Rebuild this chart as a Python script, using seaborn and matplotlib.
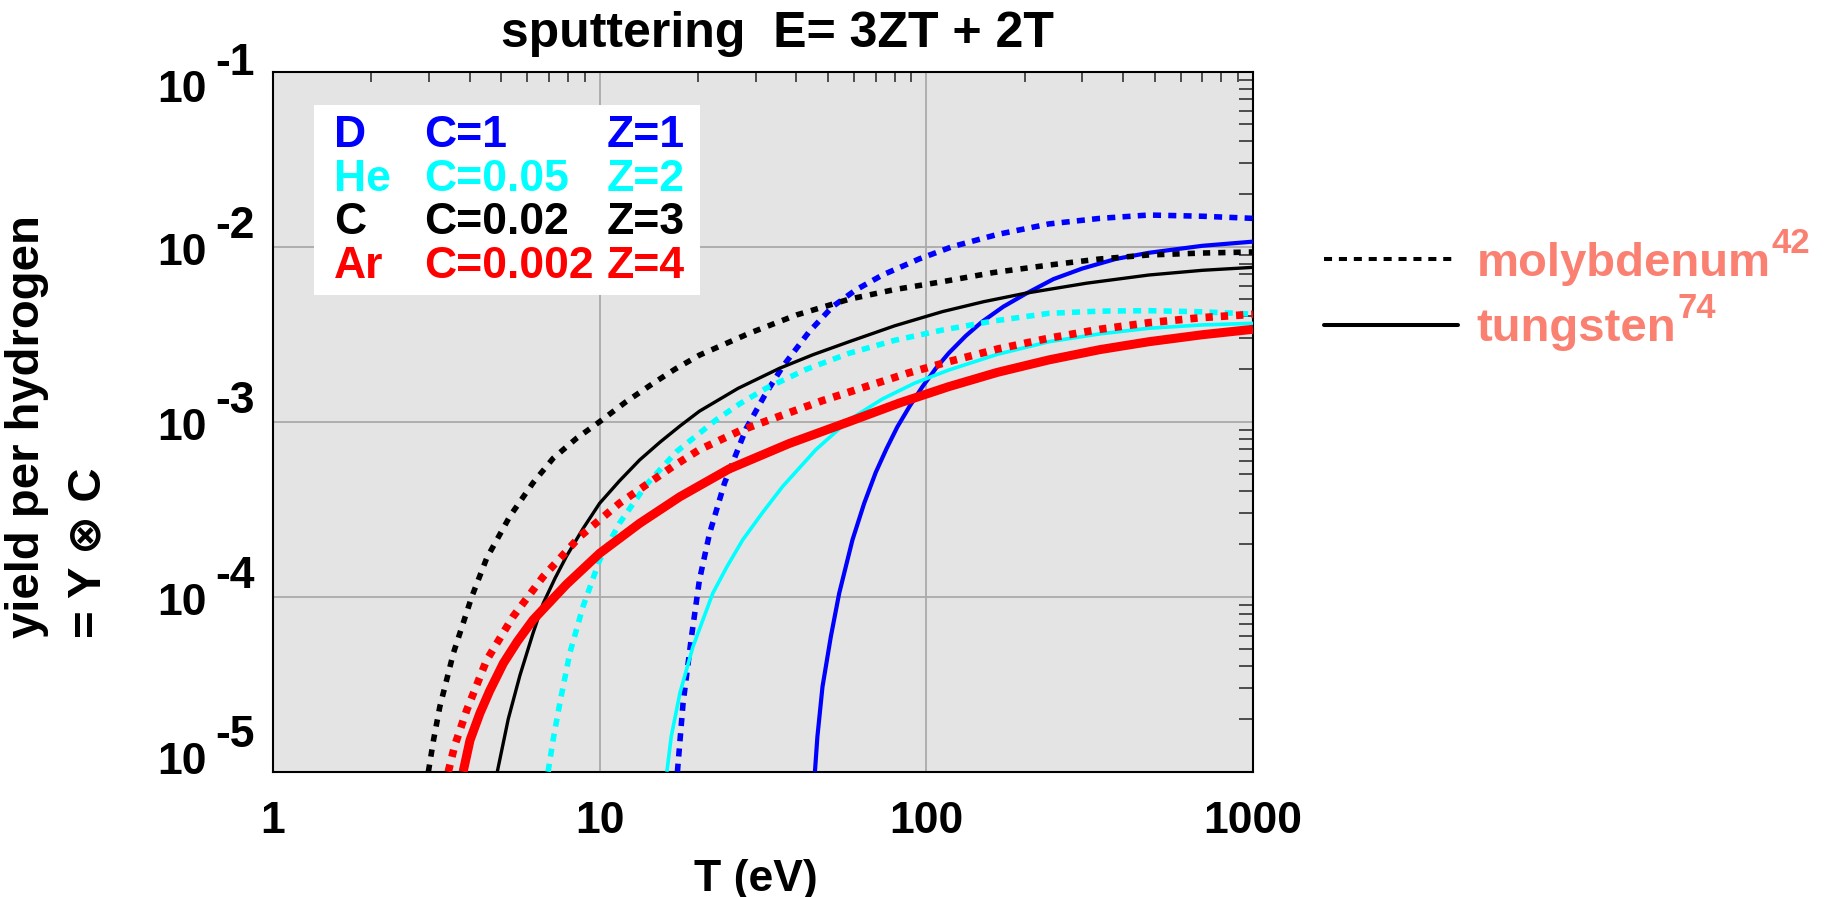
import numpy as np
import pandas as pd
import matplotlib
matplotlib.use("Agg")
import matplotlib.pyplot as plt
import matplotlib.transforms as mtransforms
from matplotlib.lines import Line2D
from matplotlib.patches import Rectangle
from matplotlib.ticker import LogLocator, NullFormatter
import seaborn as sns

# ---------------- data ----------------
# D on molybdenum (dotted) / tungsten (solid)
T_d_mo = [17.3, 18, 19.1, 20.2, 21.7, 24.1, 28.1, 32, 36.3, 43.8, 51.6, 60.8, 73.4, 95, 120,
          165, 237, 340, 480, 700, 1000]
Y_d_mo = [1.0e-5, 2.46e-5, 5.90e-5, 1.245e-4, 2.30e-4, 4.45e-4, 9.16e-4, 1.413e-3, 2.06e-3,
          3.27e-3, 4.54e-3, 5.66e-3, 6.89e-3, 8.51e-3, 1.0e-2, 1.175e-2, 1.349e-2, 1.452e-2,
          1.517e-2, 1.493e-2, 1.452e-2]
T_d_w = [45.6, 46.4, 48.1, 51, 54.1, 59.4, 64.5, 70, 75.5, 81.5, 89, 97.3, 107, 117, 132, 148,
         172, 201, 245, 300, 380, 480, 700, 1000]
Y_d_w = [1.0e-5, 1.585e-5, 3.06e-5, 5.90e-5, 1.045e-4, 2.11e-4, 3.41e-4, 5.13e-4, 7.00e-4,
         9.33e-4, 1.23e-3, 1.585e-3, 2.02e-3, 2.46e-3, 3.09e-3, 3.72e-3, 4.54e-3, 5.37e-3,
         6.53e-3, 7.50e-3, 8.51e-3, 9.23e-3, 1.012e-2, 1.069e-2]
# He
T_he_mo = [6.95, 7.2, 7.55, 8.1, 8.89, 10, 11.5, 13.9, 17.2, 22.7, 27, 32.3, 43, 58, 80, 112,
           160, 237, 340, 480, 700, 1000]
Y_he_mo = [1.0e-5, 1.514e-5, 2.46e-5, 4.75e-5, 8.77e-5, 1.622e-4, 2.63e-4, 4.37e-4, 6.75e-4,
           1.023e-3, 1.274e-3, 1.552e-3, 1.995e-3, 2.46e-3, 2.917e-3, 3.34e-3, 3.758e-3,
           4.16e-3, 4.285e-3, 4.31e-3, 4.246e-3, 4.12e-3]
T_he_w = [16.06, 16.56, 17.6, 19.3, 22.2, 24.5, 27.4, 31.5, 36.3, 45.9, 58, 73.4, 92, 117, 165,
          237, 340, 480, 700, 1000]
Y_he_w = [1.0e-5, 1.585e-5, 2.805e-5, 5.18e-5, 1.047e-4, 1.479e-4, 2.11e-4, 3.02e-4, 4.26e-4,
          6.92e-4, 1.023e-3, 1.349e-3, 1.66e-3, 1.972e-3, 2.427e-3, 2.864e-3, 3.177e-3,
          3.42e-3, 3.573e-3, 3.648e-3]
# C
T_c_mo = [2.99, 3.1, 3.24, 3.57, 4.06, 4.51, 5.31, 6.25, 7.2, 8.5, 10, 12, 14.6, 17, 20.2, 28.7,
          40, 58, 80, 112, 160, 237, 340, 480, 700, 1000]
Y_c_mo = [1.0e-5, 1.514e-5, 2.344e-5, 4.79e-5, 1.0e-4, 1.66e-4, 2.88e-4, 4.47e-4, 6.17e-4,
          8.04e-4, 1.0e-3, 1.294e-3, 1.66e-3, 1.995e-3, 2.40e-3, 3.20e-3, 4.07e-3, 5.01e-3,
          5.69e-3, 6.31e-3, 7.11e-3, 7.85e-3, 8.51e-3, 8.97e-3, 9.20e-3, 9.33e-3]
T_c_w = [4.86, 5.25, 5.7, 6.25, 6.71, 7.3, 7.91, 8.9, 10, 11.5, 13.25, 15.3, 17.6, 20.2, 26.5,
         35.5, 45, 58, 80, 112, 150, 201, 310, 480, 700, 1000]
Y_c_w = [1.0e-5, 2.0e-5, 3.55e-5, 6.18e-5, 9.12e-5, 1.274e-4, 1.70e-4, 2.455e-4, 3.42e-4,
         4.59e-4, 6.04e-4, 7.64e-4, 9.44e-4, 1.148e-3, 1.549e-3, 2.018e-3, 2.415e-3, 2.864e-3,
         3.532e-3, 4.256e-3, 4.853e-3, 5.42e-3, 6.19e-3, 6.89e-3, 7.33e-3, 7.62e-3]
# Ar
T_ar_mo = [3.44, 3.6, 3.92, 4.51, 5.43, 6.71, 8.69, 11.5, 16.7, 20.2, 27, 36.3, 48, 65.3, 88,
           117, 165, 237, 340, 480, 700, 1000]
Y_ar_mo = [1.0e-5, 1.41e-5, 2.254e-5, 4.345e-5, 7.69e-5, 1.30e-4, 2.203e-4, 3.42e-4, 5.53e-4,
           6.92e-4, 8.91e-4, 1.091e-3, 1.318e-3, 1.585e-3, 1.897e-3, 2.203e-3, 2.60e-3, 3.0e-3,
           3.373e-3, 3.68e-3, 3.936e-3, 4.11e-3]
T_ar_w = [3.82, 4.01, 4.3, 4.6, 5.07, 5.6, 6.25, 7.91, 10, 13.25, 17.6, 24.9, 38, 58, 83, 117,
          165, 237, 340, 480, 700, 1000]
Y_ar_w = [1.0e-5, 1.514e-5, 2.158e-5, 2.884e-5, 4.16e-5, 5.56e-5, 7.36e-5, 1.175e-4, 1.77e-4,
          2.624e-4, 3.724e-4, 5.37e-4, 7.50e-4, 1.0e-3, 1.282e-3, 1.585e-3, 1.914e-3, 2.254e-3,
          2.582e-3, 2.864e-3, 3.141e-3, 3.373e-3]

species = ["D", "He", "C", "Ar"]
concentrations = ["C=1", "C=0.05", "C=0.02", "C=0.002"]
charges = ["Z=1", "Z=2", "Z=3", "Z=4"]
species_colors = ["#0000ff", "#00ffff", "#000000", "#ff0000"]

x_ticks = [1, 10, 100, 1000]
x_ticklabels = ["1", "10", "100", "1000"]
y_ticks = [1e-1, 1e-2, 1e-3, 1e-4, 1e-5]
y_exponents = ["-1", "-2", "-3", "-4", "-5"]

materials = ["molybdenum", "tungsten"]
atomic_numbers = ["42", "74"]

# ---------------- style ----------------
sns.set_style("white")
plt.rcParams['font.family'] = ['Liberation Sans', 'DejaVu Sans']
plt.rcParams['font.weight'] = 'bold'
plt.rcParams['text.color'] = 'black'
plt.rcParams['axes.labelcolor'] = 'black'
plt.rcParams['xtick.color'] = 'black'
plt.rcParams['ytick.color'] = 'black'

W, H = 1827, 897
fig = plt.figure(figsize=(W / 100, H / 100), dpi=100)
ax = fig.add_axes([273 / W, 1 - 771.7 / H, 980 / W, 700 / H])
ax.set_xscale('log')
ax.set_yscale('log')

curves = [
    (T_d_mo, Y_d_mo, species_colors[0], 4.0, (0, (1.45, 1.3))),
    (T_d_w, Y_d_w, species_colors[0], 3.0, '-'),
    (T_he_mo, Y_he_mo, species_colors[1], 4.0, (0, (1.45, 1.3))),
    (T_he_w, Y_he_w, species_colors[1], 2.6, '-'),
    (T_c_mo, Y_c_mo, species_colors[2], 4.0, (0, (1.3, 1.45))),
    (T_c_w, Y_c_w, species_colors[2], 2.4, '-'),
    (T_ar_mo, Y_ar_mo, species_colors[3], 5.5, (0, (0.95, 1.05))),
    (T_ar_w, Y_ar_w, species_colors[3], 6.5, '-'),
]
for T, Y, col, lw, ls in curves:
    df = pd.DataFrame({"T": T, "Y": Y})
    sns.lineplot(data=df, x="T", y="Y", ax=ax, color=col, linewidth=lw,
                 linestyle=ls, estimator=None, sort=False,
                 solid_capstyle='butt', dash_capstyle='butt',
                 solid_joinstyle='round', zorder=3)

ax.set_xlim(1, 1000)
ax.set_ylim(1e-5, 1e-1)
ax.set_facecolor('#e4e4e4')
ax.set_axisbelow(True)
ax.grid(True, which='major', color='#aaaaaa', linewidth=1.3)
ax.grid(False, which='minor')
ax.set_ylabel("")

ax.set_xticks(x_ticks)
ax.set_xticklabels(x_ticklabels)
ax.set_yticks(y_ticks)
ax.set_yticklabels([])
ax.xaxis.set_minor_locator(LogLocator(base=10, subs=np.arange(2, 10), numticks=12))
ax.yaxis.set_minor_locator(LogLocator(base=10, subs=np.arange(2, 10), numticks=12))
ax.xaxis.set_minor_formatter(NullFormatter())
ax.yaxis.set_minor_formatter(NullFormatter())
ax.tick_params(which='both', direction='in', top=True, right=True)
ax.tick_params(which='major', length=0, pad=21, labelsize=32, labelcolor='black')
ax.tick_params(axis='x', which='minor', length=7.2, width=1.1, color='#222222')
ax.tick_params(axis='y', which='minor', length=10, width=1.1, color='#222222')
for s in ax.spines.values():
    s.set_linewidth(1.5)
    s.set_color('black')

# y tick labels drawn as "10" with a full-size exponent
shift_px = [14, 2, 2, 2, -14]
base = mtransforms.blended_transform_factory(ax.transAxes, ax.transData)
for val, ex, sh in zip(y_ticks, y_exponents, shift_px):
    t10 = base + mtransforms.ScaledTranslation(-66 / 100, -(sh + 16.5) / 100, fig.dpi_scale_trans)
    ax.text(0, val, "10", transform=t10, ha='right', va='baseline', fontsize=32,
            fontweight='bold', color='black', clip_on=False)
    te = base + mtransforms.ScaledTranslation(-58 / 100, -(sh - 10.5) / 100, fig.dpi_scale_trans)
    ax.text(0, val, ex, transform=te, ha='left', va='baseline', fontsize=32,
            fontweight='bold', color='black', clip_on=False)

# species table inside the plot
ax.add_patch(Rectangle((0.0418, 0.681), 0.3939, 0.2714, transform=ax.transAxes,
                       facecolor='white', edgecolor='none', zorder=2))
row_y = [0.8924, 0.8296, 0.7682, 0.7053]
col_x = [0.0622, 0.1541, 0.3408]
for i in range(4):
    for cx, txt in zip(col_x, [species[i], concentrations[i], charges[i]]):
        ax.text(cx, row_y[i], txt, transform=ax.transAxes, color=species_colors[i],
                fontsize=32, fontweight='bold', ha='left', va='baseline', zorder=4)

# title and axis labels
fig.text(777 / W, 1 - 47 / H, "sputtering  E= 3ZT + 2T", ha='center', va='baseline',
         fontsize=36, fontweight='bold', color='black')
ax.set_xlabel("T (eV)", fontsize=32, fontweight='bold', color='black')
ax.xaxis.set_label_coords(0.493, -0.124)
fig.text(58 / W, 1 - 638 / H, "yield per hydrogen\n= Y \u2297 C", rotation=90,
         ha='center', va='bottom', multialignment='left', linespacing=1.5,
         fontsize=34, fontweight='bold', color='black')

# material legend (outside, right)
handles = [Line2D([], [], color='black', linewidth=2.9, linestyle=(0, (2.0, 1.7)),
                  dash_capstyle='butt'),
           Line2D([], [], color='black', linewidth=2.9, linestyle='-')]
leg = fig.legend(handles, materials, loc='upper left', bbox_to_anchor=(1324 / W, 1 - 242 / H),
                 frameon=False, fontsize=34, handlelength=2.83, handletextpad=0.4,
                 labelspacing=0.45, borderpad=0, borderaxespad=0)
for t in leg.get_texts():
    t.set_color('#fa8072')
    t.set_fontweight('bold')

# atomic numbers as superscripts after the legend labels
fig.canvas.draw()
renderer = fig.canvas.get_renderer()
for t, num in zip(leg.get_texts(), atomic_numbers):
    bb = t.get_window_extent(renderer)
    fig.text((bb.x1 + 1) / W, (bb.y0 + 33) / H, num, ha='left', va='baseline',
             fontsize=25, fontweight='bold', color='#fa8072')

fig.savefig("out.png", dpi=100)
